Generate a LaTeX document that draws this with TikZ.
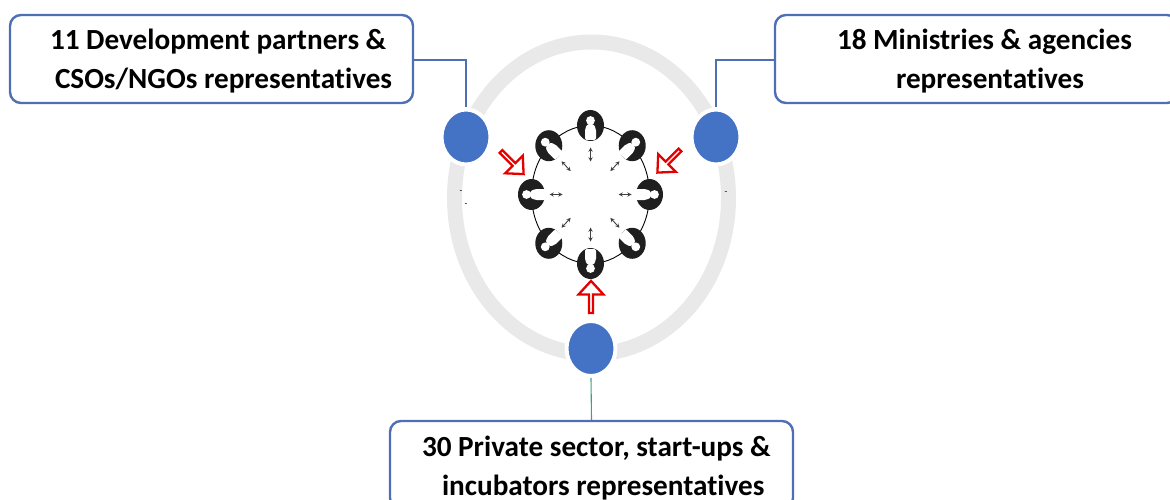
\documentclass[tikz,border=0pt]{standalone}
\usepackage{fontspec}
\setmainfont{Carlito}[Ligatures=NoCommon]
\usetikzlibrary{positioning,shapes.geometric,shapes.arrows,arrows}
\definecolor{boxblue}{HTML}{4F6FB5}
\definecolor{dotblue}{HTML}{4472C4}
\definecolor{ringgrey}{HTML}{E9E9E9}
\definecolor{stemgreen}{HTML}{3FA184}
\begin{document}
\begin{tikzpicture}[
		x=1pt,y=-1pt,
		group/.style={
			draw=boxblue,
			fill=white,
			line width=2.4pt,
			rounded corners=11pt,
			minimum width=403pt,
			minimum height=88pt,
			text width=403pt,
			inner sep=0pt,
			align=flush left,
			font=\fontsize{29.2}{39.5}\selectfont\bfseries
		},
		dot/.style={
			ellipse,
			draw=white,
			line width=4pt,
			fill=dotblue,
			inner sep=0pt,
			minimum width=49pt,
			minimum height=55pt
		},
		seat/.style={
			ellipse,
			fill=black!88,
			inner sep=0pt,
			minimum width=27pt,
			minimum height=31pt
		},
		push/.style={
			single arrow,
			draw=red!90!black,
			fill=white,
			line width=2.3pt,
			inner sep=0pt,
			minimum height=32pt,
			minimum width=25pt,
			single arrow head extend=6pt,
			single arrow tip angle=85,
			single arrow head indent=0pt
		},
		speck/.style={
			inner sep=0pt,
			font=\fontsize{9}{9}\selectfont
		},
		link/.style={
			line width=1.1pt
		},
		>=latex
		]
		\clip (0,0) rectangle (1170,500);
		% ring behind the dots
		\draw[ringgrey,line width=15pt] (591.5,198) ellipse [x radius=137pt,y radius=156pt];
		\node[speck] (specka) at (461,192) {-};
		\node[speck] (speckb) at (466,205) {-};
		\node[speck] (speckc) at (726,193) {-};
		% round table
		\draw[line width=.9pt] (590.5,194.5) ellipse [x radius=59pt,y radius=69pt];
		\foreach \ang [count=\mi] in {0,45,90,135,180,225,270,315}
			{
			\node[seat] (seat\mi) at ({590.5+59*cos(\ang)},{194.5+69*sin(\ang)}) {};
			\begin{scope}[shift={(seat\mi.center)},rotate=-\ang]
				\fill[white] (5,0) circle [radius=4.4pt];
				\fill[white,rounded corners=2pt] (2,-2.5) -- (-3,-5.5) -- (-14.5,-5.5) -- (-14.5,5.5) -- (-3,5.5) -- (2,2.5) -- cycle;
			\end{scope}
			\coordinate (near\mi) at ({590.5+28*cos(\ang)},{194.5+33*sin(\ang)});
			\coordinate (far\mi) at ({590.5+41*cos(\ang)},{194.5+47*sin(\ang)});
			\draw[<->,>=stealth,line width=.9pt,black!75] (near\mi) -- (far\mi);
			}
		% arrows towards the table
		\node[push,rotate=-45] (pushl) at (511.5,162) {};
		\node[push,rotate=-135] (pushr) at (669.5,160.5) {};
		\node[push,rotate=90] (pushb) at (591,298) {};
		% dots
		\node[dot] (dotl) at (466,137) {};
		\node[dot] (dotr) at (716,137) {};
		\node[dot] (dotb) at (591,348.500) {};
		% labels
		\node[group] (groupl) at (211.5,59) {\rule{0pt}{25pt}\hspace*{40pt}11 Development partners \&\\\hspace*{45pt}CSOs/NGOs representatives};
		\node[group] (groupr) at (976.5,59) {\rule{0pt}{25pt}\hspace*{62pt}18 Ministries \& agencies\\\hspace*{121pt}representatives};
		\node[group] (groupb) at (591.5,465) {\rule{0pt}{27pt}\hspace*{32pt}30 Private sector, start-ups \&\\\hspace*{52pt}incubators representatives};
		% connectors
		\draw[boxblue,link] (groupl.east |- 0,60) -| (dotl.north);
		\draw[boxblue,link] (groupr.west |- 0,60) -| (dotr.north);
		\draw[stemgreen,link] (dotb.south) -- (groupb.north);
\end{tikzpicture}
\end{document}
